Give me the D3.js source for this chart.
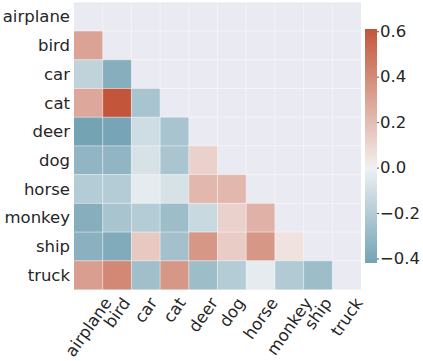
<!DOCTYPE html>
<html>
<head>
<meta charset="utf-8">
<script src="https://cdn.jsdelivr.net/npm/d3@7"></script>
<style>
  body { margin: 0; background: #fff; }
  text { font-family: "DejaVu Sans", sans-serif; fill: #262626; }
</style>
</head>
<body>
<div id="chart"></div>
<script>
// class names (rows and columns)
var labels = ["airplane", "bird", "car", "cat", "deer", "dog", "horse", "monkey", "ship", "truck"]

// lower triangle of the correlation matrix, row i has i values (diagonal masked)
var corrRows = [
  [],
  [0.30],
  [-0.16, -0.36],
  [0.28, 0.61, -0.24],
  [-0.42, -0.41, -0.11, -0.24],
  [-0.32, -0.32, -0.08, -0.235, 0.12],
  [-0.20, -0.20, -0.03, -0.08, 0.22, 0.22],
  [-0.36, -0.24, -0.20, -0.28, -0.13, 0.12, 0.24],
  [-0.34, -0.375, 0.15, -0.26, 0.35, 0.14, 0.35, 0.05],
  [0.32, 0.41, -0.27, 0.35, -0.28, -0.20, -0.03, -0.21, -0.28]
]

var cbarTicks = [-0.4, -0.2, 0.0, 0.2, 0.4, 0.6]

var width = 423
var height = 361

var svg = d3.select("#chart").append("svg")
  .attr("width", width)
  .attr("height", height)

// flatten into cells
var cells = []
corrRows.forEach(function (row, i) {
  row.forEach(function (v, j) {
    cells.push({ row: labels[i], col: labels[j], value: v })
  })
})

var vmin = d3.min(cells, function (d) { return d.value })
var vmax = d3.max(cells, function (d) { return d.value })
var vrange = Math.max(vmax, -vmin)

// diverging palette (220 -> 20), centered at 0
var color = d3.scaleLinear()
  .domain([-vrange, -1e-6, 1e-6, vrange])
  .range(["#3d7f98", "#eef1f3", "#f3efee", "#c3553a"])
  .interpolate(d3.interpolateRgb)

var x = d3.scaleBand().domain(labels).range([74, 361])
var y = d3.scaleBand().domain(labels).range([2.3, 289.5])

// axes background
svg.append("rect")
  .attr("x", 74).attr("y", 2.3)
  .attr("width", 361 - 74).attr("height", 289.5 - 2.3)
  .attr("fill", "#eaeaf2")

// cells
svg.append("g").selectAll("rect").data(cells).enter().append("rect")
  .attr("x", function (d) { return x(d.col) })
  .attr("y", function (d) { return y(d.row) })
  .attr("width", x.bandwidth())
  .attr("height", y.bandwidth())
  .attr("fill", function (d) { return color(d.value) })

// faint white grid at cell borders
var grid = svg.append("g")
  .attr("stroke", "#fff")
  .attr("stroke-opacity", 0.45)
  .attr("stroke-width", 1)
for (var k = 1; k < labels.length; k++) {
  var gx = 74 + k * x.bandwidth()
  var gy = 2.3 + k * y.bandwidth()
  grid.append("line").attr("x1", gx).attr("x2", gx).attr("y1", 2.3).attr("y2", 289.5)
  grid.append("line").attr("x1", 74).attr("x2", 361).attr("y1", gy).attr("y2", gy)
}

// y labels
svg.append("g").selectAll("text").data(labels).enter().append("text")
  .attr("x", 70)
  .attr("y", function (d) { return y(d) + y.bandwidth() / 2 })
  .attr("dy", "0.35em")
  .attr("text-anchor", "end")
  .style("font-size", "16.5px")
  .text(function (d) { return d })

// x labels, rotated 55 deg, centered on tick like matplotlib
var ang = 55 * Math.PI / 180
var xl = svg.append("g").selectAll("text").data(labels).enter().append("text")
  .attr("text-anchor", "middle")
  .attr("dy", "0.35em")
  .style("font-size", "16.5px")
  .text(function (d) { return d })
xl.each(function (d) {
  var w = this.getComputedTextLength()
  var h = 16.5 * 1.16
  var halfH = (w * Math.sin(ang) + h * Math.cos(ang)) / 2
  var cx = x(d) + x.bandwidth() / 2
  var cy = 294 + halfH
  d3.select(this).attr("transform", "translate(" + cx + "," + cy + ") rotate(-55)")
})

// colorbar
var cbTop = 29, cbBottom = 263
var cy = d3.scaleLinear().domain([vmin, vmax]).range([cbBottom, cbTop])
var defs = svg.append("defs")
var grad = defs.append("linearGradient").attr("id", "cbgrad")
  .attr("x1", 0).attr("x2", 0).attr("y1", 1).attr("y2", 0)
d3.range(0, 1.0001, 0.025).forEach(function (t) {
  grad.append("stop")
    .attr("offset", t)
    .attr("stop-color", color(vmin + t * (vmax - vmin)))
})
svg.append("rect")
  .attr("x", 365).attr("y", cbTop)
  .attr("width", 12).attr("height", cbBottom - cbTop)
  .attr("fill", "url(#cbgrad)")

var cbAxis = svg.append("g")
  .attr("transform", "translate(377,0)")
  .call(d3.axisRight(cy).tickValues(cbarTicks).tickSize(2).tickPadding(1)
    .tickFormat(function (d) { return d3.format(".1f")(d).replace("-", "\u2212") }))
cbAxis.select(".domain").remove()
cbAxis.selectAll(".tick line").attr("stroke", "#262626").attr("stroke-width", 0.8)
cbAxis.selectAll("text")
  .attr("fill", "#262626")
  .style("font-family", "DejaVu Sans, sans-serif")
  .style("font-size", "16.5px")
</script>
</body>
</html>
